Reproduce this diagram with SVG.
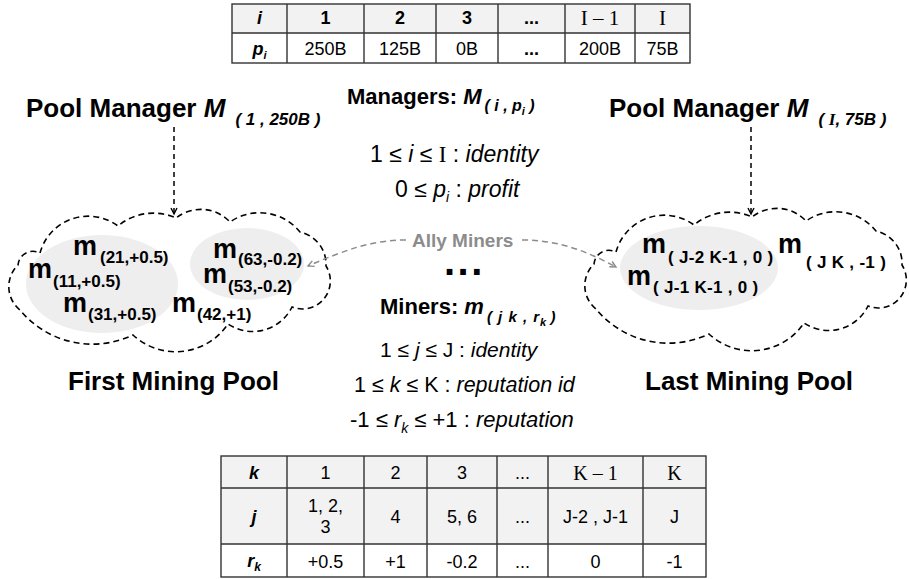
<svg xmlns="http://www.w3.org/2000/svg" width="909" height="579" viewBox="0 0 909 579">
<style>
  text { font-family: "Liberation Sans", Arial, sans-serif; fill: #000; }
  .b { font-weight: bold; }
  .i { font-style: italic; }
  .serif { font-family: "Liberation Serif", "Times New Roman", serif; }
  .c { text-anchor: middle; }
  .grid { fill: none; stroke: #333; stroke-width: 1.4; }
  .hdr { fill: #f2f2f2; }
  .cloud { fill: none; stroke: #000; stroke-width: 1.6; stroke-dasharray: 6 4; }
  .blob { fill: #eeeeee; }
  .conn { fill: none; stroke: #000; stroke-width: 1.5; stroke-dasharray: 5 4; }
  .ally { fill: none; stroke: #8c8c8c; stroke-width: 1.5; stroke-dasharray: 6 4; }
  .tbl { font-size: 18px; }
  .mm { font-size: 27px; font-weight: bold; }
  .ms { font-size: 17px; font-weight: bold; }
  .mr { font-size: 17px; font-weight: bold; letter-spacing: 0.3px; }
</style>
<defs>
  <marker id="tip" markerWidth="10" markerHeight="10" refX="7" refY="4" orient="auto" markerUnits="userSpaceOnUse">
    <path d="M1,1 L7,4 L1,7" fill="none" stroke="#000" stroke-width="1.4"/>
  </marker>
  <marker id="tipGrey" markerWidth="10" markerHeight="10" refX="7" refY="4" orient="auto" markerUnits="userSpaceOnUse">
    <path d="M1,1 L7,4 L1,7" fill="none" stroke="#8c8c8c" stroke-width="1.4"/>
  </marker>
  <!-- dashed cloud outline shared by both pools -->
  <path id="cloudShape" d="M40,253 A50,50 0 0 1 118,226 A55,55 0 0 1 176,218 A40,40 0 0 1 230,222 A52,52 0 0 1 300,232 A33,33 0 0 1 326,266 A28,28 0 0 1 292,307 A44,44 0 0 1 228,324 A63,63 0 0 1 133,335 A94,94 0 0 1 20,310 A30,30 0 0 1 18,265 A15,15 0 0 1 40,253 Z"/>
</defs>

<!-- Managers table -->
<g id="managers-table">
  <rect class="hdr" x="232" y="4" width="458" height="29"/>
  <rect fill="#ffffff" x="232" y="33" width="458" height="30"/>
  <rect class="grid" x="232" y="4" width="458" height="59"/>
  <path class="grid" d="M232,33 H690 M287,4 V63 M364,4 V63 M436,4 V63 M498,4 V63 M565,4 V63 M635,4 V63"/>
  <text class="tbl b i c" x="259.5" y="24">i</text>
  <text class="tbl b c" x="325.5" y="24">1</text>
  <text class="tbl b c" x="400" y="24">2</text>
  <text class="tbl b c" x="467" y="24">3</text>
  <text class="tbl b c" x="531.5" y="24">...</text>
  <text class="serif c" font-size="21" x="600" y="25">I – 1</text>
  <text class="serif c" font-size="21" x="662.5" y="25">I</text>
  <text class="tbl b i c" x="259.5" y="55">p<tspan font-size="11" dy="4">i</tspan></text>
  <text class="tbl c" x="325.5" y="55">250B</text>
  <text class="tbl c" x="400" y="55">125B</text>
  <text class="tbl c" x="467" y="55">0B</text>
  <text class="tbl b c" x="531.5" y="55">...</text>
  <text class="tbl c" x="600" y="55">200B</text>
  <text class="tbl c" x="662.5" y="55">75B</text>
</g>

<!-- Pool manager labels -->
<g id="manager-first">
  <text class="b" font-size="26" x="26" y="117">Pool Manager <tspan class="i">M</tspan><tspan class="i" font-size="17" dx="10" dy="8">( 1 , 250B )</tspan></text>
</g>
<g id="manager-last">
  <text class="b" font-size="26" x="609" y="117">Pool Manager <tspan class="i">M</tspan><tspan class="i" font-size="17" dx="10" dy="8">( <tspan class="serif">I</tspan>, 75B )</tspan></text>
</g>

<!-- Managers legend -->
<g id="managers-legend">
  <text class="b" font-size="22" x="347" y="104">Managers: <tspan class="i">M</tspan><tspan class="i" font-size="16" dx="3" dy="7">( i , p</tspan><tspan class="i" font-size="11" dy="4">i</tspan><tspan class="i" font-size="16" dy="-4"> )</tspan></text>
  <text font-size="23" x="370" y="162">1 ≤ <tspan class="i">i</tspan> ≤ <tspan class="serif">I</tspan> : <tspan class="i">identity</tspan></text>
  <text font-size="23" x="395" y="197">0 ≤ <tspan class="i">p</tspan><tspan class="i" font-size="14" dy="5">i</tspan><tspan dy="-5"> : </tspan><tspan class="i">profit</tspan></text>
</g>

<!-- First mining pool -->
<g id="pool-first">
  <ellipse class="blob" cx="102" cy="284" rx="76" ry="49"/>
  <ellipse class="blob" cx="247" cy="264" rx="57" ry="36"/>
  <use href="#cloudShape" class="cloud"/>
  <text class="mm" x="73" y="255">m</text><text class="ms" x="100" y="263">(21,+0.5)</text>
  <text class="mm" x="28" y="278">m</text><text class="ms" x="53" y="287">(11,+0.5)</text>
  <text class="mm" x="63" y="312">m</text><text class="ms" x="88" y="320">(31,+0.5)</text>
  <text class="mm" x="172" y="312">m</text><text class="ms" x="197" y="320">(42,+1)</text>
  <text class="mm" x="213" y="258">m</text><text class="ms" x="238" y="265">(63,-0.2)</text>
  <text class="mm" x="203" y="283">m</text><text class="ms" x="228" y="292">(53,-0.2)</text>
  <text class="b" font-size="26" x="68" y="390">First Mining Pool</text>
</g>

<!-- Last mining pool -->
<g id="pool-last">
  <ellipse class="blob" cx="699" cy="268" rx="79" ry="42"/>
  <use href="#cloudShape" class="cloud" transform="translate(576,-1)"/>
  <text class="mm" x="642" y="253">m</text><text class="mr" x="668" y="263">( J-2 K-1 , 0 )</text>
  <text class="mm" x="778" y="253">m</text><text class="mr" x="806" y="268">( J K , -1 )</text>
  <text class="mm" x="627" y="285">m</text><text class="mr" x="653" y="293">( J-1 K-1 , 0 )</text>
  <text class="b" font-size="26" x="645" y="390">Last Mining Pool</text>
</g>

<!-- Miners legend -->
<g id="miners-legend">
  <text class="b" font-size="40" letter-spacing="2.5" x="444" y="275">...</text>
  <text class="b" font-size="22" x="380" y="314">Miners: <tspan class="i">m</tspan><tspan class="i" font-size="15" dx="3" dy="8" letter-spacing="1">( j k , r</tspan><tspan class="i" font-size="11" dy="4">k</tspan><tspan class="i" font-size="15" dy="-4"> )</tspan></text>
  <text font-size="21" x="380" y="357">1 ≤ <tspan class="i">j</tspan> ≤ J : <tspan class="i">identity</tspan></text>
  <text font-size="21.5" x="354" y="392">1 ≤ <tspan class="i">k</tspan> ≤ K : <tspan class="i">reputation id</tspan></text>
  <text font-size="22" x="350" y="427">-1 ≤ <tspan class="i">r</tspan><tspan class="i" font-size="14" dy="6">k</tspan><tspan dy="-6"> ≤ +1 : </tspan><tspan class="i">reputation</tspan></text>
</g>

<!-- Miners table -->
<g id="miners-table">
  <rect class="hdr" x="221" y="456" width="485" height="88"/>
  <rect fill="#ffffff" x="221" y="544" width="485" height="33"/>
  <rect class="grid" x="221" y="456" width="485" height="121"/>
  <path class="grid" d="M221,488 H706 M221,544 H706 M287,456 V577 M364,456 V577 M427,456 V577 M497,456 V577 M548,456 V577 M643,456 V577"/>
  <text class="tbl b i c" x="254" y="479">k</text>
  <text class="tbl c" x="325.5" y="479">1</text>
  <text class="tbl c" x="395.5" y="479">2</text>
  <text class="tbl c" x="462" y="479">3</text>
  <text class="tbl c" x="522.5" y="479">...</text>
  <text class="serif c" font-size="20" x="595.5" y="480">K – 1</text>
  <text class="serif c" font-size="20" x="674.5" y="480">K</text>
  <text class="tbl b i c" x="254" y="523">j</text>
  <text class="tbl c" x="325.5" y="512">1, 2,</text>
  <text class="tbl c" x="325.5" y="533">3</text>
  <text class="tbl c" x="395.5" y="523">4</text>
  <text class="tbl c" x="462" y="523">5, 6</text>
  <text class="tbl c" x="522.5" y="523">...</text>
  <text class="tbl c" x="595.5" y="523">J-2 , J-1</text>
  <text class="tbl c" x="674.5" y="523">J</text>
  <text class="tbl b i c" x="254" y="567">r<tspan font-size="12" dy="4">k</tspan></text>
  <text class="tbl c" x="325.5" y="568">+0.5</text>
  <text class="tbl c" x="395.5" y="568">+1</text>
  <text class="tbl c" x="462" y="568">-0.2</text>
  <text class="tbl c" x="522.5" y="568">...</text>
  <text class="tbl c" x="595.5" y="568">0</text>
  <text class="tbl c" x="674.5" y="568">-1</text>
</g>

<!-- Connectors -->
<g id="connectors">
  <path class="conn" d="M174,127 V214" marker-end="url(#tip)"/>
  <path class="conn" d="M751,127 V214" marker-end="url(#tip)"/>
  <path class="ally" d="M406,240 C372,240 345,250 308,266" marker-end="url(#tipGrey)"/>
  <path class="ally" d="M522,240 C560,240 588,252 616,267" marker-end="url(#tipGrey)"/>
  <text class="b" font-size="19" x="412" y="247" style="fill:#8c8c8c">Ally Miners</text>
</g>
</svg>
